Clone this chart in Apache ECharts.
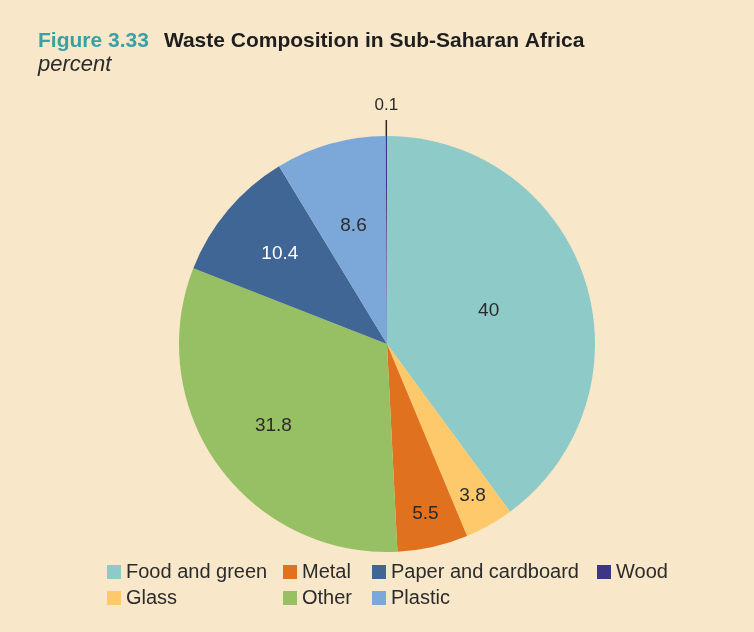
<!DOCTYPE html>
<html>
<head>
<meta charset="utf-8">
<script src="https://cdn.jsdelivr.net/npm/echarts@6/dist/echarts.min.js"></script>
<style>
  html, body { margin: 0; padding: 0; background: #f8e7c9; }
  #chart { width: 754px; height: 632px; }
</style>
</head>
<body>
<div id="chart"></div>
<script>
    // waste shares, clockwise from 12 o'clock
    const categories = ['Food and green', 'Glass', 'Metal', 'Other', 'Paper and cardboard', 'Plastic', 'Wood'];
    const shares = [40, 3.8, 5.5, 31.8, 10.4, 8.6, 0.1];
    const colors = ['#8ecac8', '#fec96b', '#e0711f', '#97bf64', '#3f6694', '#7ca8d9', '#3b3685'];
    // legend is laid out column by column
    const legendColumns = [
        ['Food and green', 'Glass'],
        ['Metal', 'Other'],
        ['Paper and cardboard', 'Plastic'],
        ['Wood']
    ];

    const font = '"Liberation Sans", Arial, sans-serif';
    const center = [387, 344];
    const R = 208;
    const legendLeft = [102, 278, 367, 592];

    // labels sit at different depths in the slices: one transparent ring per depth
    const labelRings = [
        {radius: [0, R], names: ['Food and green']},
        {radius: [32, R], names: ['Plastic']},
        {radius: [66, R], names: ['Other', 'Paper and cardboard']},
        {radius: [134, R], names: ['Glass', 'Metal']}
    ];
    const whiteLabels = ['Paper and cardboard'];

    let chart = echarts.init(document.getElementById('chart'));

    let mainData = categories.map((name, i) => ({
        name: name,
        value: shares[i],
        itemStyle: {color: colors[i]},
        label: {show: name === 'Wood'},
        labelLine: {show: name === 'Wood'}
    }));

    let series = [{
        type: 'pie',
        center: center,
        radius: [0, R],
        startAngle: 90,
        clockwise: true,
        animation: false,
        legendHoverLink: false,
        data: mainData,
        itemStyle: {borderWidth: 0},
        emphasis: {disabled: true},
        label: {
            position: 'outside',
            formatter: '{c}',
            color: '#2b2b2b',
            fontSize: 17,
            fontFamily: font
        },
        labelLine: {
            length: 16,
            length2: 0,
            smooth: false,
            lineStyle: {color: '#2b2b2b', width: 1.5}
        },
        labelLayout: function (p) {
            if (!p.labelLinePoints) return;
            let end = p.labelLinePoints[p.labelLinePoints.length - 1];
            return {
                x: end[0],
                y: end[1] - 6,
                align: 'center',
                verticalAlign: 'bottom',
                labelLinePoints: p.labelLinePoints
            };
        }
    }];

    labelRings.forEach(ring => {
        series.push({
            type: 'pie',
            center: center,
            radius: ring.radius,
            startAngle: 90,
            clockwise: true,
            silent: true,
            animation: false,
            legendHoverLink: false,
            itemStyle: {color: 'rgba(0,0,0,0)', borderWidth: 0},
            labelLine: {show: false},
            data: categories.map((name, i) => ({
                name: name,
                value: shares[i],
                label: {
                    show: ring.names.indexOf(name) >= 0,
                    position: 'inside',
                    formatter: '{c}',
                    color: whiteLabels.indexOf(name) >= 0 ? '#ffffff' : '#2b2b2b',
                    fontSize: 19,
                    fontFamily: font
                }
            }))
        });
    });

    let legends = legendColumns.map((col, i) => ({
        orient: 'vertical',
        left: legendLeft[i],
        top: 557,
        data: col,
        icon: 'rect',
        itemWidth: 14,
        itemHeight: 14,
        itemGap: 6,
        itemStyle: {borderWidth: 0},
        selectedMode: false,
        textStyle: {fontSize: 20, color: '#2b2b2b', fontFamily: font}
    }));

    let option = {
        backgroundColor: '#f8e7c9',
        animation: false,
        title: {
            left: 33,
            top: 26,
            text: '{a|Figure 3.33}   {b|Waste Composition in Sub-Saharan Africa}',
            subtext: 'percent',
            itemGap: 2,
            textStyle: {
                rich: {
                    a: {fontSize: 21, color: '#3aa0a6', fontFamily: font},
                    b: {fontSize: 21, fontWeight: 'bold', color: '#1e1e1e', fontFamily: font}
                }
            },
            subtextStyle: {fontSize: 22, fontStyle: 'italic', color: '#2b2b2b', fontFamily: font}
        },
        legend: legends,
        series: series
    };

    chart.setOption(option);
</script>
</body>
</html>
